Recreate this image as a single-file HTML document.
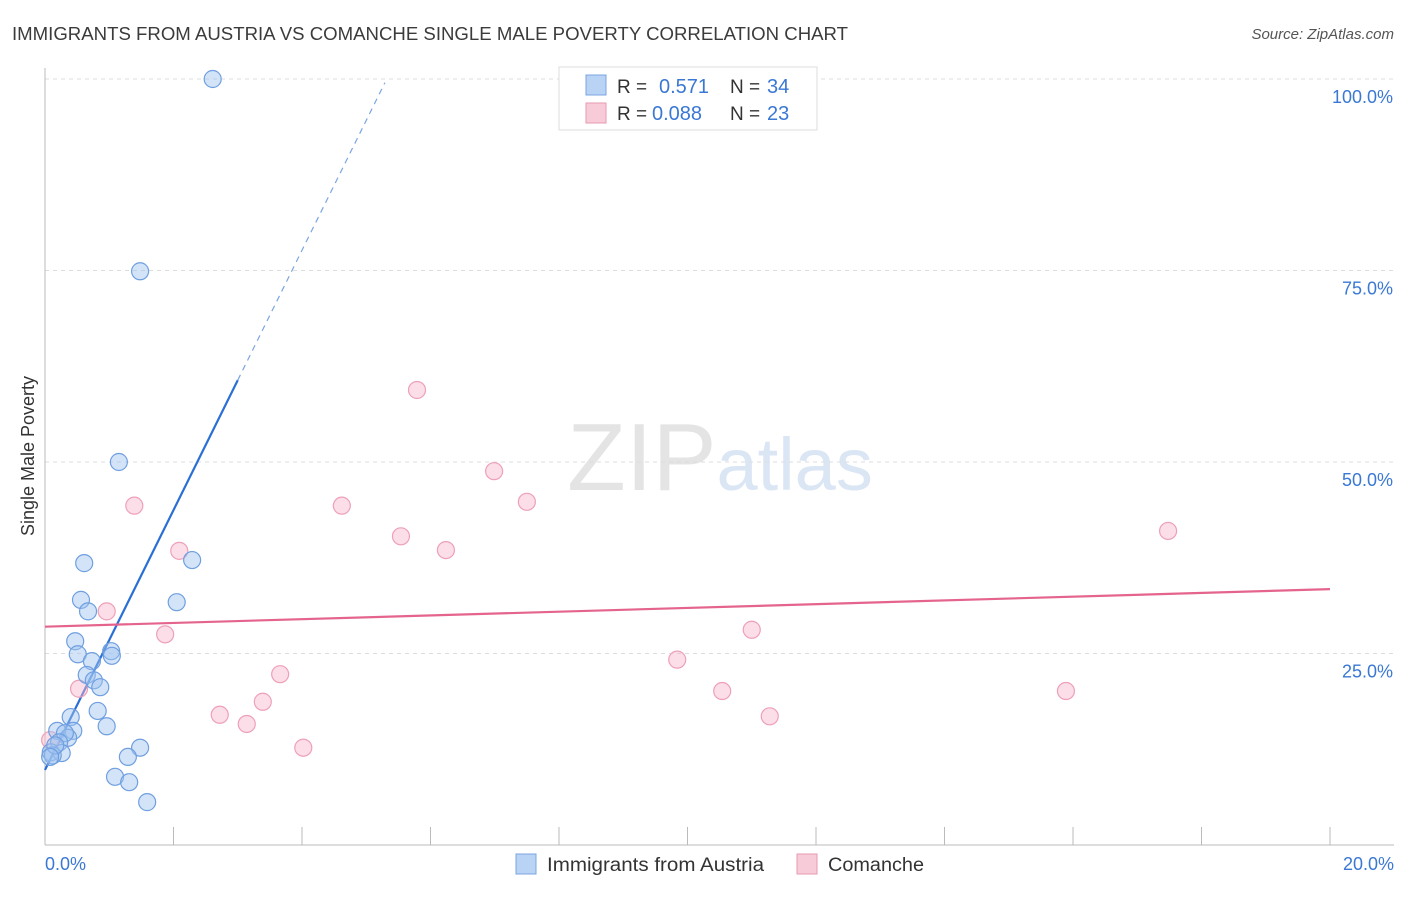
<!DOCTYPE html>
<html><head><meta charset="utf-8"><style>
body{margin:0;background:#fff;font-family:"Liberation Sans",sans-serif;}
svg text{font-family:"Liberation Sans",sans-serif;}
</style></head><body>
<svg id="chart" width="1406" height="892" viewBox="0 0 1406 892" xmlns="http://www.w3.org/2000/svg">
<text x="12" y="40" font-size="18" fill="#3b3b3b" textLength="836" lengthAdjust="spacingAndGlyphs">IMMIGRANTS FROM AUSTRIA VS COMANCHE SINGLE MALE POVERTY CORRELATION CHART</text>
<text x="1394" y="39" font-size="15" fill="#555" text-anchor="end" font-style="italic">Source: ZipAtlas.com</text>
<text x="720" y="490" font-size="96" text-anchor="middle" fill="#e4e4e4" font-family="Liberation Serif">ZIP<tspan fill="#dbe6f5" font-family="Liberation Sans" font-size="74">atlas</tspan></text>
<text transform="translate(34,456) rotate(-90)" font-size="18" fill="#333" text-anchor="middle">Single Male Poverty</text>
<g id="grid"></g><g id="axes"></g><g id="trends"></g><g id="points"></g>
<g>
<rect x="559" y="67" width="258" height="63" fill="#fff" stroke="#ddd"/>
<rect x="586" y="75" width="20" height="20" fill="#b9d3f5" stroke="#7aa5e0"/>
<text x="617" y="93" font-size="19" fill="#333">R =</text>
<text x="659" y="93" font-size="20" fill="#3a78d4">0.571</text>
<text x="730" y="93" font-size="19" fill="#333">N =</text>
<text x="767" y="93" font-size="20" fill="#3a78d4">34</text>
<rect x="586" y="103" width="20" height="20" fill="#f8cbd8" stroke="#e99ab2"/>
<text x="617" y="120" font-size="19" fill="#333">R =</text>
<text x="652" y="120" font-size="20" fill="#3a78d4">0.088</text>
<text x="730" y="120" font-size="19" fill="#333">N =</text>
<text x="767" y="120" font-size="20" fill="#3a78d4">23</text>
</g>
<g>
<rect x="516" y="854" width="20" height="20" fill="#b9d3f5" stroke="#7aa5e0"/>
<text x="547" y="871" font-size="19" fill="#333" textLength="217" lengthAdjust="spacingAndGlyphs">Immigrants from Austria</text>
<rect x="797" y="854" width="20" height="20" fill="#f8cbd8" stroke="#e99ab2"/>
<text x="828" y="871" font-size="19" fill="#333" textLength="96" lengthAdjust="spacingAndGlyphs">Comanche</text>
</g>
</svg>
<script>
const blueX=[2.61,1.48,1.15,0.61,2.29,0.56,0.67,2.05,0.47,0.51,1.03,1.04,0.73,0.65,0.76,0.86,0.82,0.40,0.96,0.44,0.19,0.36,0.31,0.22,0.09,0.26,0.12,1.48,1.29,1.09,1.31,1.59,0.16,0.08];
const blueY=[100,74.9,50,36.8,37.2,32,30.5,31.7,26.6,24.9,25.3,24.7,24,22.2,21.5,20.6,17.5,16.7,15.5,14.9,14.9,14,14.6,13.4,12.1,12,11.7,12.7,11.5,8.9,8.2,5.6,13,11.5];
const pinkX=[5.79,6.99,7.50,4.62,1.39,5.54,6.24,2.09,17.48,0.96,1.87,11.0,9.84,3.66,0.53,10.54,15.89,3.39,2.72,3.14,11.28,4.02,0.08];
const pinkY=[59.4,48.8,44.8,44.3,44.3,40.3,38.5,38.4,41,30.5,27.5,28.1,24.2,22.3,20.4,20.1,20.1,18.7,17,15.8,16.8,12.7,13.7];
const yTicks=[25,50,75,100];
const yTickLabels=["25.0%","50.0%","75.0%","100.0%"];
const xTickVals=[0,2,4,6,8,10,12,14,16,18,20];
const xEndLabels=["0.0%","20.0%"];
const blueTrend=[9.8,16.96];
const pinkTrend=[28.5,0.245];
const blueSolidEnd=3.0, blueDashEnd=5.29;

const NS="http://www.w3.org/2000/svg";
const X=v=>45+v/20*1285, Y=v=>845-v/100*766;
function mk(tag,attrs,parent){const e=document.createElementNS(NS,tag);for(const k in attrs)e.setAttribute(k,attrs[k]);document.getElementById(parent).appendChild(e);return e;}
yTicks.forEach((t,i)=>{
 const l=mk('line',{x1:45,x2:1394,y1:Y(t),y2:Y(t),stroke:'#ddd','stroke-dasharray':'4,4'},'grid');
 
 
 const tx=mk('text',{x:1393,y:Y(t)+24,'font-size':18,fill:'#3a78d4','text-anchor':'end'},'grid');
 tx.textContent=yTickLabels[i];
 
 
});
const ax=mk('line',{x1:45,x2:1394,y1:845,y2:845,stroke:'#bbb'},'axes');


const ay=mk('line',{x1:45,x2:45,y1:68,y2:845,stroke:'#bbb'},'axes');


xTickVals.forEach(v=>{
 const t=mk('line',{x1:X(v),x2:X(v),y1:827,y2:845,stroke:'#bbb'},'axes');
 
 
});
[[0,'start',45],[20,'end',1394]].forEach((p,i)=>{
 const t=mk('text',{x:p[2],y:870,'font-size':18,fill:'#3a78d4','text-anchor':p[1]},'axes');
 t.textContent=xEndLabels[i];
 
 
});
const bl=mk('line',{x1:X(0),y1:Y(blueTrend[0]),x2:X(blueSolidEnd),y2:Y(blueTrend[0]+blueTrend[1]*blueSolidEnd),stroke:'#2a6fd6','stroke-width':2.2},'trends');


const bd=mk('line',{x1:X(blueSolidEnd),y1:Y(blueTrend[0]+blueTrend[1]*blueSolidEnd),x2:X(blueDashEnd),y2:Y(blueTrend[0]+blueTrend[1]*blueDashEnd),stroke:'#7aa5e0','stroke-width':1.2,'stroke-dasharray':'6,5'},'trends');


const pl=mk('line',{x1:X(0),y1:Y(pinkTrend[0]),x2:X(20),y2:Y(pinkTrend[0]+pinkTrend[1]*20),stroke:'#e4648d','stroke-width':2.2},'trends');


pinkX.forEach((x,i)=>{
 const c=mk('circle',{cx:X(x),cy:Y(pinkY[i]),r:8.5,fill:'rgba(246,182,202,0.45)',stroke:'#eea0b8','stroke-width':1.2},'points');
 
 
});
blueX.forEach((x,i)=>{
 const c=mk('circle',{cx:X(x),cy:Y(blueY[i]),r:8.5,fill:'rgba(160,196,240,0.45)',stroke:'#6f9fe0','stroke-width':1.2},'points');
 
 
});
</script>
</body></html>
